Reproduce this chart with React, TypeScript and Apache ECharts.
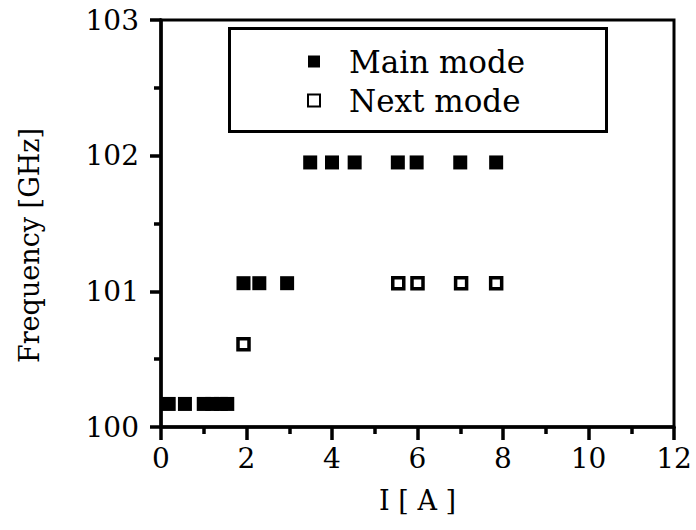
import React, { useEffect, useRef } from "react";
import * as echarts from "echarts";

// Current I [A] and frequency [GHz] of the main oscillation mode
const mainCurrent = [0.18, 0.56, 1.0, 1.2, 1.4, 1.55, 1.93, 2.3, 2.95, 3.49, 4.0, 4.53, 5.54, 5.98, 7.0, 7.84];
const mainFreq = [100.17, 100.17, 100.17, 100.17, 100.17, 100.17, 101.06, 101.06, 101.06, 101.95, 101.95, 101.95, 101.95, 101.95, 101.95, 101.95];

// Current I [A] and frequency [GHz] of the next mode
const nextCurrent = [1.93, 5.55, 6.0, 7.02, 7.84];
const nextFreq = [100.61, 101.06, 101.06, 101.06, 101.06];

const xTicks = { min: 0, max: 12, step: 2 };
const yTicks = { min: 100, max: 103, step: 1 };

const seriesNames = ["Main mode", "Next mode"];
const xTitle = "I [ A ]";
const yTitle = "Frequency [GHz]";

const FONT = "DejaVu Serif";
const INK = "#000";

export default function App() {
  const ref = useRef<HTMLDivElement>(null);

  useEffect(() => {
    if (!ref.current) return;
    const chart = echarts.init(ref.current, undefined, { renderer: "svg" });

    const pairs = (xs: number[], ys: number[]) => xs.map((x, i) => [x, ys[i]]);

    const tickStyle = { color: INK, width: 3.5 };

    chart.setOption({
      animation: false,
      backgroundColor: "#fff",
      grid: {
        left: 161,
        top: 20,
        width: 513,
        height: 407,
        show: true,
        borderColor: INK,
        borderWidth: 3,
        backgroundColor: "transparent",
      },
      xAxis: {
        type: "value",
        min: xTicks.min,
        max: xTicks.max,
        interval: xTicks.step,
        name: xTitle,
        nameLocation: "middle",
        nameGap: 60,
        nameTextStyle: { fontFamily: FONT, fontSize: 27, color: INK },
        axisLine: { show: true, onZero: false, lineStyle: { color: INK, width: 3.5 } },
        axisTick: { show: true, inside: false, length: 13, lineStyle: tickStyle },
        minorTick: { show: true, splitNumber: 2, length: 7, lineStyle: tickStyle },
        splitLine: { show: false },
        axisLabel: { margin: 17, fontFamily: FONT, fontSize: 28, color: INK },
      },
      yAxis: {
        type: "value",
        min: yTicks.min,
        max: yTicks.max,
        interval: yTicks.step,
        name: yTitle,
        nameLocation: "middle",
        nameGap: 118,
        nameRotate: 90,
        nameTextStyle: { fontFamily: FONT, fontSize: 27, color: INK, padding: [0, 0, 0, -44] },
        axisLine: { show: true, onZero: false, lineStyle: { color: INK, width: 3.5 } },
        axisTick: { show: true, inside: false, length: 11, lineStyle: tickStyle },
        minorTick: { show: true, splitNumber: 2, length: 7, lineStyle: tickStyle },
        splitLine: { show: false },
        axisLabel: { margin: 22, fontFamily: FONT, fontSize: 28, color: INK },
      },
      legend: {
        orient: "vertical",
        left: 302,
        top: 41,
        itemWidth: 12,
        itemHeight: 12,
        itemGap: 8,
        textStyle: { fontFamily: FONT, fontSize: 31, color: INK, padding: [0, 0, 0, 24] },
        data: seriesNames,
      },
      graphic: [
        {
          type: "rect",
          left: 228,
          top: 27,
          shape: { width: 377, height: 103 },
          style: { fill: "transparent", stroke: INK, lineWidth: 3 },
          z: 10,
        },
      ],
      series: [
        {
          name: seriesNames[0],
          type: "scatter",
          symbol: "rect",
          symbolSize: 14,
          itemStyle: { color: INK, opacity: 1 },
          data: pairs(mainCurrent, mainFreq),
        },
        {
          name: seriesNames[1],
          type: "scatter",
          symbol: "rect",
          symbolSize: 11,
          itemStyle: { color: "#fff", borderColor: INK, borderWidth: 3.5, opacity: 1 },
          data: pairs(nextCurrent, nextFreq),
        },
      ],
    });

    return () => chart.dispose();
  }, []);

  return (
    <div
      ref={ref}
      style={{ position: "fixed", left: 0, top: 0, width: 696, height: 530, background: "#fff" }}
    />
  );
}
